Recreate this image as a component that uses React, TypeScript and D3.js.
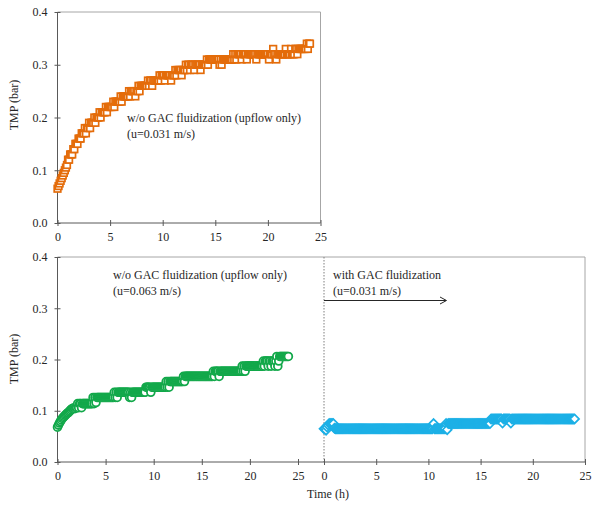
import React, { useEffect, useRef } from 'react';
import * as d3 from 'd3';

// sampling times (h), shared by the three runs (one row per hour)
const TIME_H = [
  0, 0.1, 0.2, 0.3, 0.4, 0.5, 0.6, 0.7, 0.8, 0.9,
  1, 1.1, 1.2, 1.3, 1.4, 1.5, 1.6, 1.7, 1.8, 1.9,
  2, 2.1, 2.2, 2.3, 2.4, 2.5, 2.6, 2.7, 2.8, 2.9,
  3, 3.1, 3.2, 3.3, 3.4, 3.5, 3.6, 3.7, 3.8, 3.9,
  4, 4.1, 4.2, 4.3, 4.4, 4.5, 4.6, 4.7, 4.8, 4.9,
  5, 5.1, 5.2, 5.3, 5.4, 5.5, 5.6, 5.7, 5.8, 5.9,
  6, 6.1, 6.2, 6.3, 6.4, 6.5, 6.6, 6.7, 6.8, 6.9,
  7, 7.1, 7.2, 7.3, 7.4, 7.5, 7.6, 7.7, 7.8, 7.9,
  8, 8.1, 8.2, 8.3, 8.4, 8.5, 8.6, 8.7, 8.8, 8.9,
  9, 9.1, 9.2, 9.3, 9.4, 9.5, 9.6, 9.7, 9.8, 9.9,
  10, 10.1, 10.2, 10.3, 10.4, 10.5, 10.6, 10.7, 10.8, 10.9,
  11, 11.1, 11.2, 11.3, 11.4, 11.5, 11.6, 11.7, 11.8, 11.9,
  12, 12.1, 12.2, 12.3, 12.4, 12.5, 12.6, 12.7, 12.8, 12.9,
  13, 13.1, 13.2, 13.3, 13.4, 13.5, 13.6, 13.7, 13.8, 13.9,
  14, 14.1, 14.2, 14.3, 14.4, 14.5, 14.6, 14.7, 14.8, 14.9,
  15, 15.1, 15.2, 15.3, 15.4, 15.5, 15.6, 15.7, 15.8, 15.9,
  16, 16.1, 16.2, 16.3, 16.4, 16.5, 16.6, 16.7, 16.8, 16.9,
  17, 17.1, 17.2, 17.3, 17.4, 17.5, 17.6, 17.7, 17.8, 17.9,
  18, 18.1, 18.2, 18.3, 18.4, 18.5, 18.6, 18.7, 18.8, 18.9,
  19, 19.1, 19.2, 19.3, 19.4, 19.5, 19.6, 19.7, 19.8, 19.9,
  20, 20.1, 20.2, 20.3, 20.4, 20.5, 20.6, 20.7, 20.8, 20.9,
  21, 21.1, 21.2, 21.3, 21.4, 21.5, 21.6, 21.7, 21.8, 21.9,
  22, 22.1, 22.2, 22.3, 22.4, 22.5, 22.6, 22.7, 22.8, 22.9,
  23, 23.1, 23.2, 23.3, 23.4, 23.5, 23.6, 23.7, 23.8, 23.9,
  24,
];

// TMP (bar), w/o GAC fluidization, u=0.031 m/s (top panel)
const TMP_UPFLOW_031 = [
  0.065, 0.07, 0.075, 0.08, 0.085, 0.09, 0.095, 0.10, 0.105, 0.11,
  0.12, 0.12, 0.13, 0.13, 0.13, 0.14, 0.14, 0.15, 0.15, 0.15,
  0.16, 0.16, 0.16, 0.17, 0.17, 0.17, 0.18, 0.17, 0.18, 0.18,
  0.19, 0.18, 0.19, 0.19, 0.19, 0.20, 0.19, 0.20, 0.20, 0.20,
  0.21, 0.20, 0.21, 0.21, 0.21, 0.21, 0.22, 0.21, 0.22, 0.22,
  0.22, 0.22, 0.22, 0.23, 0.22, 0.23, 0.23, 0.23, 0.23, 0.23,
  0.24, 0.23, 0.24, 0.24, 0.24, 0.24, 0.24, 0.24, 0.25, 0.24,
  0.25, 0.25, 0.25, 0.25, 0.24, 0.25, 0.25, 0.26, 0.25, 0.26,
  0.26, 0.26, 0.26, 0.26, 0.26, 0.26, 0.27, 0.26, 0.27, 0.27,
  0.26, 0.27, 0.27, 0.27, 0.27, 0.27, 0.27, 0.28, 0.27, 0.28,
  0.28, 0.28, 0.27, 0.28, 0.28, 0.28, 0.28, 0.28, 0.27, 0.28,
  0.28, 0.28, 0.29, 0.28, 0.29, 0.29, 0.29, 0.29, 0.28, 0.29,
  0.29, 0.29, 0.30, 0.29, 0.30, 0.30, 0.29, 0.30, 0.30, 0.30,
  0.29, 0.30, 0.30, 0.30, 0.30, 0.30, 0.29, 0.30, 0.30, 0.30,
  0.30, 0.30, 0.31, 0.30, 0.31, 0.31, 0.31, 0.31, 0.31, 0.31,
  0.31, 0.31, 0.31, 0.31, 0.30, 0.31, 0.30, 0.31, 0.31, 0.31,
  0.31, 0.31, 0.31, 0.31, 0.31, 0.31, 0.31, 0.32, 0.31, 0.32,
  0.31, 0.32, 0.32, 0.32, 0.32, 0.31, 0.32, 0.32, 0.32, 0.32,
  0.31, 0.32, 0.32, 0.32, 0.32, 0.32, 0.32, 0.32, 0.32, 0.31,
  0.32, 0.32, 0.32, 0.32, 0.32, 0.32, 0.32, 0.32, 0.32, 0.32,
  0.32, 0.31, 0.32, 0.32, 0.32, 0.33, 0.32, 0.32, 0.31, 0.32,
  0.32, 0.32, 0.32, 0.32, 0.32, 0.32, 0.32, 0.33, 0.32, 0.32,
  0.32, 0.32, 0.33, 0.32, 0.32, 0.32, 0.33, 0.33, 0.32, 0.33,
  0.33, 0.33, 0.33, 0.33, 0.33, 0.33, 0.33, 0.34, 0.33, 0.34,
  0.34,
];

// TMP (bar), w/o GAC fluidization, u=0.063 m/s (bottom left)
const TMP_UPFLOW_063 = [
  0.068, 0.072, 0.076, 0.079, 0.082, 0.085, 0.087, 0.089, 0.091, 0.093,
  0.095, 0.096, 0.098, 0.100, 0.102, 0.104, 0.104, 0.106, 0.104, 0.106,
  0.106, 0.114, 0.106, 0.114, 0.114, 0.106, 0.114, 0.114, 0.114, 0.114,
  0.114, 0.114, 0.114, 0.114, 0.114, 0.114, 0.114, 0.126, 0.114, 0.126,
  0.116, 0.126, 0.126, 0.126, 0.126, 0.126, 0.126, 0.126, 0.126, 0.126,
  0.126, 0.126, 0.126, 0.126, 0.126, 0.126, 0.126, 0.126, 0.126, 0.136,
  0.126, 0.136, 0.126, 0.136, 0.136, 0.136, 0.136, 0.136, 0.136, 0.136,
  0.136, 0.136, 0.136, 0.136, 0.136, 0.126, 0.136, 0.126, 0.136, 0.136,
  0.136, 0.136, 0.136, 0.136, 0.136, 0.136, 0.136, 0.136, 0.136, 0.136,
  0.136, 0.136, 0.146, 0.146, 0.146, 0.146, 0.146, 0.136, 0.146, 0.146,
  0.146, 0.146, 0.146, 0.146, 0.146, 0.146, 0.146, 0.146, 0.146, 0.146,
  0.146, 0.146, 0.146, 0.157, 0.146, 0.157, 0.146, 0.157, 0.157, 0.157,
  0.157, 0.157, 0.157, 0.157, 0.157, 0.157, 0.157, 0.157, 0.157, 0.157,
  0.157, 0.167, 0.157, 0.167, 0.167, 0.167, 0.167, 0.167, 0.167, 0.167,
  0.167, 0.167, 0.167, 0.167, 0.167, 0.167, 0.167, 0.167, 0.167, 0.167,
  0.167, 0.167, 0.167, 0.167, 0.167, 0.167, 0.167, 0.167, 0.167, 0.167,
  0.167, 0.167, 0.177, 0.167, 0.177, 0.177, 0.177, 0.177, 0.167, 0.177,
  0.177, 0.177, 0.177, 0.177, 0.177, 0.177, 0.177, 0.177, 0.177, 0.177,
  0.177, 0.177, 0.177, 0.177, 0.177, 0.177, 0.177, 0.177, 0.177, 0.177,
  0.177, 0.177, 0.187, 0.177, 0.187, 0.177, 0.187, 0.187, 0.187, 0.187,
  0.187, 0.187, 0.187, 0.187, 0.187, 0.187, 0.187, 0.187, 0.187, 0.187,
  0.187, 0.187, 0.187, 0.187, 0.197, 0.187, 0.197, 0.197, 0.197, 0.187,
  0.197, 0.197, 0.187, 0.197, 0.197, 0.197, 0.187, 0.197, 0.206, 0.187,
  0.197, 0.206, 0.206, 0.206, 0.206, 0.206, 0.206, 0.206, 0.206, 0.206,
  0.206,
];

// TMP (bar), with GAC fluidization, u=0.031 m/s (bottom right)
const TMP_FLUID_031 = [
  0.065, 0.065, 0.062, 0.068, 0.072, 0.075, 0.075, 0.075, 0.075, 0.075,
  0.066, 0.065, 0.065, 0.065, 0.065, 0.065, 0.065, 0.065, 0.065, 0.065,
  0.065, 0.065, 0.065, 0.065, 0.065, 0.065, 0.065, 0.065, 0.065, 0.065,
  0.065, 0.065, 0.065, 0.065, 0.065, 0.065, 0.065, 0.065, 0.065, 0.065,
  0.065, 0.065, 0.065, 0.065, 0.065, 0.065, 0.065, 0.065, 0.065, 0.065,
  0.065, 0.065, 0.065, 0.065, 0.065, 0.065, 0.065, 0.065, 0.065, 0.065,
  0.065, 0.065, 0.065, 0.065, 0.065, 0.065, 0.065, 0.065, 0.065, 0.065,
  0.065, 0.065, 0.065, 0.065, 0.065, 0.065, 0.065, 0.065, 0.065, 0.065,
  0.065, 0.065, 0.065, 0.065, 0.065, 0.065, 0.065, 0.065, 0.065, 0.065,
  0.065, 0.065, 0.065, 0.065, 0.065, 0.065, 0.065, 0.065, 0.065, 0.065,
  0.065, 0.065, 0.065, 0.065, 0.065, 0.075, 0.065, 0.065, 0.065, 0.065,
  0.065, 0.065, 0.065, 0.065, 0.065, 0.065, 0.065, 0.075, 0.063, 0.075,
  0.075, 0.075, 0.075, 0.075, 0.075, 0.075, 0.075, 0.075, 0.075, 0.075,
  0.075, 0.075, 0.075, 0.075, 0.075, 0.075, 0.075, 0.075, 0.075, 0.075,
  0.075, 0.075, 0.075, 0.075, 0.075, 0.075, 0.075, 0.075, 0.075, 0.075,
  0.075, 0.075, 0.075, 0.075, 0.075, 0.075, 0.075, 0.075, 0.075, 0.075,
  0.084, 0.084, 0.084, 0.084, 0.084, 0.084, 0.084, 0.084, 0.084, 0.084,
  0.084, 0.076, 0.084, 0.084, 0.084, 0.084, 0.084, 0.084, 0.084, 0.076,
  0.084, 0.084, 0.084, 0.084, 0.084, 0.084, 0.084, 0.084, 0.084, 0.084,
  0.084, 0.084, 0.084, 0.084, 0.084, 0.084, 0.084, 0.084, 0.084, 0.084,
  0.084, 0.084, 0.084, 0.084, 0.084, 0.084, 0.084, 0.084, 0.084, 0.084,
  0.084, 0.084, 0.084, 0.084, 0.084, 0.084, 0.084, 0.084, 0.084, 0.084,
  0.084, 0.084, 0.084, 0.084, 0.084, 0.084, 0.084, 0.084, 0.084, 0.084,
  0.084, 0.084, 0.084, 0.084, 0.084, 0.084, 0.084, 0.084, 0.084, 0.084,
  0.084,
];

const X_TICKS = [0, 5, 10, 15, 20, 25];
const Y_TICKS = [0, 0.1, 0.2, 0.3, 0.4];

const FONT = '"Liberation Serif", "Times New Roman", serif';
const AXIS = '#595959';
const FRAME = '#a6a6a6';
const TEXT = '#262626';

function App() {
  const svgRef = useRef(null);

  useEffect(() => {
    const svg = d3.select(svgRef.current);
    svg.selectAll('*').remove();

    const xTop = d3.scaleLinear().domain([0, 25]).range([57.5, 320.5]);
    const yTop = d3.scaleLinear().domain([0, 0.4]).range([223, 12]);
    const xLeft = d3.scaleLinear().domain([0, 25]).range([57.5, 298]);
    const xRight = d3.scaleLinear().domain([0, 25]).range([324, 585]);
    const yBot = d3.scaleLinear().domain([0, 0.4]).range([462, 257]);

    const line = (x1, y1, x2, y2, color) =>
      svg.append('line')
        .attr('x1', x1).attr('y1', y1).attr('x2', x2).attr('y2', y2)
        .attr('stroke', color).attr('stroke-width', 1);

    // frames (light top/right edges)
    line(xTop(0), yTop(0.4), xTop(25), yTop(0.4), FRAME);
    line(xTop(25), yTop(0.4), xTop(25), yTop(0), FRAME);
    line(xLeft(0), yBot(0.4), xRight(25), yBot(0.4), FRAME);
    line(xRight(25), yBot(0.4), xRight(25), yBot(0), FRAME);

    // dotted separator where fluidization starts
    line(xRight(0), yBot(0.4), xRight(0), yBot(0), '#7f7f7f')
      .attr('stroke-dasharray', '1.5,1.5');

    const xAxis = (scale, yPos) => {
      const g = svg.append('g')
        .attr('transform', `translate(0,${yPos})`)
        .call(d3.axisBottom(scale).tickValues(X_TICKS).tickSizeInner(3).tickSizeOuter(0).tickPadding(6));
      g.select('.domain').remove();
      g.selectAll('.tick line').attr('y1', -3).attr('y2', 3).attr('stroke', AXIS);
      g.selectAll('.tick text')
        .attr('font-family', FONT).attr('font-size', 12).attr('fill', TEXT);
    };

    const yAxis = (scale, xPos) => {
      const g = svg.append('g')
        .attr('transform', `translate(${xPos},0)`)
        .call(d3.axisLeft(scale).tickValues(Y_TICKS).tickFormat(d3.format('.1f'))
          .tickSizeInner(3).tickSizeOuter(0).tickPadding(7));
      g.select('.domain').remove();
      g.selectAll('.tick line').attr('x1', -3).attr('x2', 3).attr('stroke', AXIS);
      g.selectAll('.tick text')
        .attr('font-family', FONT).attr('font-size', 12).attr('fill', TEXT);
    };

    xAxis(xTop, yTop(0));
    yAxis(yTop, xTop(0));
    xAxis(xLeft, yBot(0));
    xAxis(xRight, yBot(0));
    yAxis(yBot, xLeft(0));

    // axis lines
    line(xTop(0), yTop(0), xTop(25), yTop(0), AXIS);
    line(xTop(0), yTop(0), xTop(0), yTop(0.4), AXIS);
    line(xLeft(0), yBot(0), xRight(25), yBot(0), AXIS);
    line(xLeft(0), yBot(0), xLeft(0), yBot(0.4), AXIS);

    // series markers
    const pts = (vals) => TIME_H.map((t, i) => ({ t, v: vals[i] }));

    svg.append('g').selectAll('rect')
      .data(pts(TMP_UPFLOW_031))
      .enter()
      .append('rect')
      .attr('x', d => xTop(d.t) - 3.3)
      .attr('y', d => yTop(d.v) - 3.3)
      .attr('width', 6.6)
      .attr('height', 6.6)
      .attr('fill', '#ffffff')
      .attr('stroke', '#e46c0a')
      .attr('stroke-width', 1.7);

    svg.append('g').selectAll('circle')
      .data(pts(TMP_UPFLOW_063))
      .enter()
      .append('circle')
      .attr('cx', d => xLeft(d.t))
      .attr('cy', d => yBot(d.v))
      .attr('r', 3.9)
      .attr('fill', '#ffffff')
      .attr('stroke', '#12a84a')
      .attr('stroke-width', 1.8);

    const diamond = 'M0,-4.5L4.5,0L0,4.5L-4.5,0Z';
    svg.append('g').selectAll('path')
      .data(pts(TMP_FLUID_031))
      .enter()
      .append('path')
      .attr('d', diamond)
      .attr('transform', d => `translate(${xRight(d.t)},${yBot(d.v)})`)
      .attr('fill', '#ffffff')
      .attr('stroke', '#1cb0e6')
      .attr('stroke-width', 1.7);

    // annotations
    const label = (x, y, s) =>
      svg.append('text')
        .attr('x', x).attr('y', y)
        .attr('font-family', FONT).attr('font-size', 12).attr('fill', TEXT)
        .text(s);

    label(127, 122, 'w/o GAC fluidization (upflow only)');
    label(127, 138, '(u=0.031 m/s)');
    label(113, 279, 'w/o GAC fluidization (upflow only)');
    label(113, 295, '(u=0.063 m/s)');
    label(333, 279, 'with GAC fluidization');
    label(333, 295, '(u=0.031 m/s)');

    // arrow
    const ay = 300.5;
    line(xRight(0), ay, 446, ay, '#262626');
    svg.append('path')
      .attr('d', `M${440},${ay - 3.5}L${446.5},${ay}L${440},${ay + 3.5}`)
      .attr('fill', 'none').attr('stroke', '#262626').attr('stroke-width', 1);

    // axis titles
    svg.append('text')
      .attr('transform', 'translate(18,105) rotate(-90)')
      .attr('text-anchor', 'middle')
      .attr('font-family', FONT).attr('font-size', 12).attr('fill', TEXT)
      .text('TMP (bar)');
    svg.append('text')
      .attr('transform', 'translate(18,359) rotate(-90)')
      .attr('text-anchor', 'middle')
      .attr('font-family', FONT).attr('font-size', 12).attr('fill', TEXT)
      .text('TMP (bar)');
    svg.append('text')
      .attr('x', 328).attr('y', 498)
      .attr('text-anchor', 'middle')
      .attr('font-family', FONT).attr('font-size', 12).attr('fill', TEXT)
      .text('Time (h)');
  }, []);

  return (
    <svg
      ref={svgRef}
      width={602}
      height={507}
      style={{ position: 'absolute', left: 0, top: 0, background: '#ffffff' }}
    />
  );
}

export default App;
